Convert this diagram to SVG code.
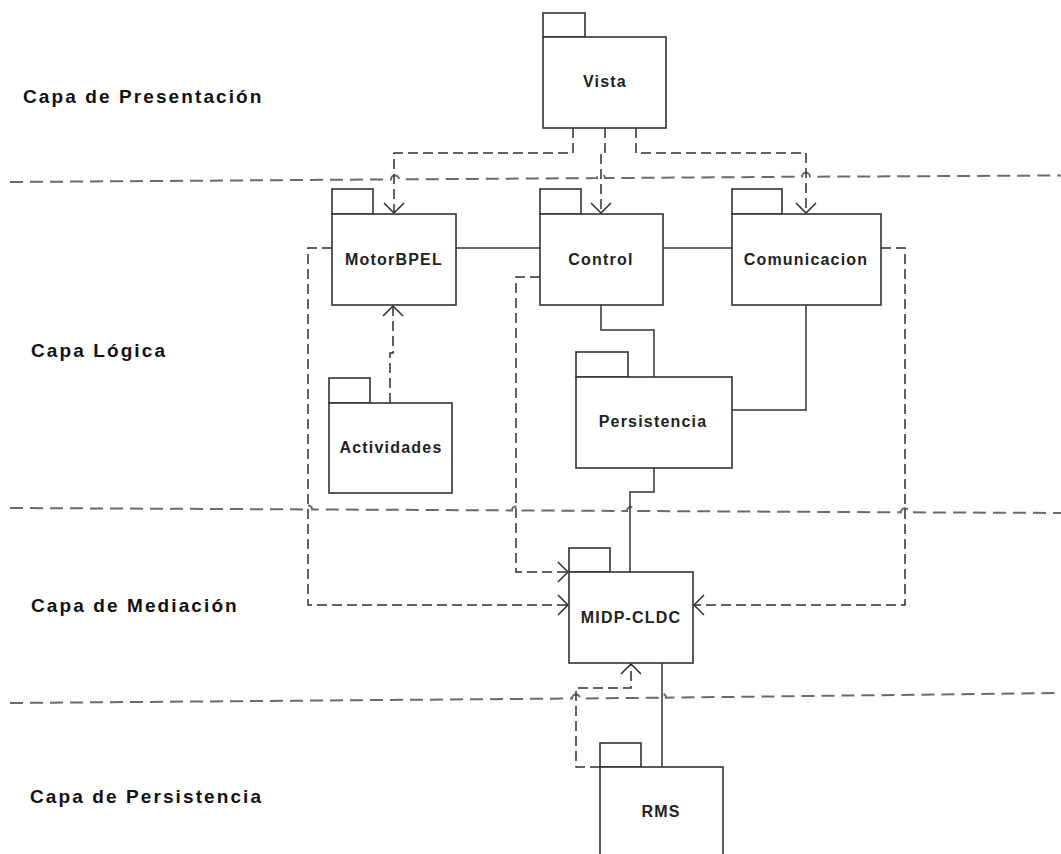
<svg xmlns="http://www.w3.org/2000/svg" width="1061" height="854" viewBox="0 0 1061 854">
<style>
.layer{fill:none;stroke:#6a6a6a;stroke-width:2;stroke-dasharray:13,7}
.dep{fill:none;stroke:#2e2e2e;stroke-width:1.5;stroke-dasharray:10,5}
.assoc{fill:none;stroke:#333;stroke-width:1.5}
.box{fill:#fff;stroke:#333;stroke-width:1.6}
.lbl{font-family:"Liberation Sans",Arial,sans-serif;font-weight:bold;font-size:16px;fill:#222;letter-spacing:1.2px;text-anchor:middle}
.cap{font-family:"Liberation Sans",Arial,sans-serif;font-weight:bold;font-size:19px;fill:#111;letter-spacing:2.1px}
</style>
<defs>
<marker id="open" markerUnits="userSpaceOnUse" viewBox="0 0 12 22" refX="11" refY="11" markerWidth="12" markerHeight="22" orient="auto">
<path d="M1,1 L11,11 L1,21" fill="none" stroke="#2e2e2e" stroke-width="1.5" stroke-dasharray="none"/>
</marker>
</defs>
<rect width="1061" height="854" fill="#fff"/>
<g id="layers">
<path class="layer" d="M10,182 L391,179.4 a4,4 0 0 1 8,0 L597,178.1 a4,4 0 0 1 8,0 L802,176.7 a4,4 0 0 1 8,0 L1061,175.5"/>
<path class="layer" d="M10,508 L304,509.4 a4,4 0 0 1 8,0 L512,510.4 a4,4 0 0 1 8,0 L627,511 a4,4 0 0 1 8,0 L901,512.3 a4,4 0 0 1 8,0 L1061,513"/>
<path class="layer" d="M10,703 L572,698.5 a4,4 0 0 1 8,0 L658,697.7 a4,4 0 0 1 8,0 L1061,693"/>
</g>
<g id="layer-labels">
<text class="cap" x="23" y="103">Capa de Presentación</text>
<text class="cap" x="31" y="357">Capa Lógica</text>
<text class="cap" x="31" y="612">Capa de Mediación</text>
<text class="cap" x="30" y="803">Capa de Persistencia</text>
</g>
<g id="connectors">
<path class="dep" d="M573,128 V153 H394 V213" marker-end="url(#open)"/>
<path class="dep" d="M605,128 V152 H601 V213" marker-end="url(#open)"/>
<path class="dep" d="M636,128 V153 H806 V213" marker-end="url(#open)"/>
<path class="dep" d="M390,403 V353 H393 V306" marker-end="url(#open)"/>
<path class="dep" d="M332,248 H308 V605 H568" marker-end="url(#open)"/>
<path class="dep" d="M540,277 H516 V572 H568" marker-end="url(#open)"/>
<path class="dep" d="M881,248 H905 V605 H694" marker-end="url(#open)"/>
<path class="dep" d="M600,767 H576 V688 H631 V664" marker-end="url(#open)"/>
<path class="assoc" d="M456,248 H540"/>
<path class="assoc" d="M663,248 H732"/>
<path class="assoc" d="M601,305 V330 H654 V377"/>
<path class="assoc" d="M806,305 V410 H732"/>
<path class="assoc" d="M654,468 V492 H630 V572"/>
<path class="assoc" d="M662,663 V767"/>
</g>
<g id="Vista">
<rect class="box" x="543" y="13" width="42" height="24"/>
<rect class="box" x="543" y="37" width="123" height="91"/>
<text class="lbl" x="605" y="87">Vista</text>
</g>
<g id="MotorBPEL">
<rect class="box" x="332" y="189" width="41" height="25"/>
<rect class="box" x="332" y="214" width="124" height="91"/>
<text class="lbl" x="394" y="265">MotorBPEL</text>
</g>
<g id="Control">
<rect class="box" x="540" y="189" width="41" height="25"/>
<rect class="box" x="540" y="214" width="123" height="91"/>
<text class="lbl" x="601" y="265">Control</text>
</g>
<g id="Comunicacion">
<rect class="box" x="732" y="189" width="50" height="25"/>
<rect class="box" x="732" y="214" width="149" height="91"/>
<text class="lbl" x="806" y="265">Comunicacion</text>
</g>
<g id="Persistencia">
<rect class="box" x="576" y="352" width="52" height="25"/>
<rect class="box" x="576" y="377" width="156" height="91"/>
<text class="lbl" x="653" y="427">Persistencia</text>
</g>
<g id="Actividades">
<rect class="box" x="329" y="378" width="41" height="25"/>
<rect class="box" x="329" y="403" width="123" height="90"/>
<text class="lbl" x="391" y="453">Actividades</text>
</g>
<g id="MIDP-CLDC">
<rect class="box" x="569" y="548" width="41" height="24"/>
<rect class="box" x="569" y="572" width="124" height="91"/>
<text class="lbl" x="631" y="623">MIDP-CLDC</text>
</g>
<g id="RMS">
<rect class="box" x="600" y="743" width="41" height="24"/>
<rect class="box" x="600" y="767" width="123" height="100"/>
<text class="lbl" x="661" y="817">RMS</text>
</g>
</svg>
